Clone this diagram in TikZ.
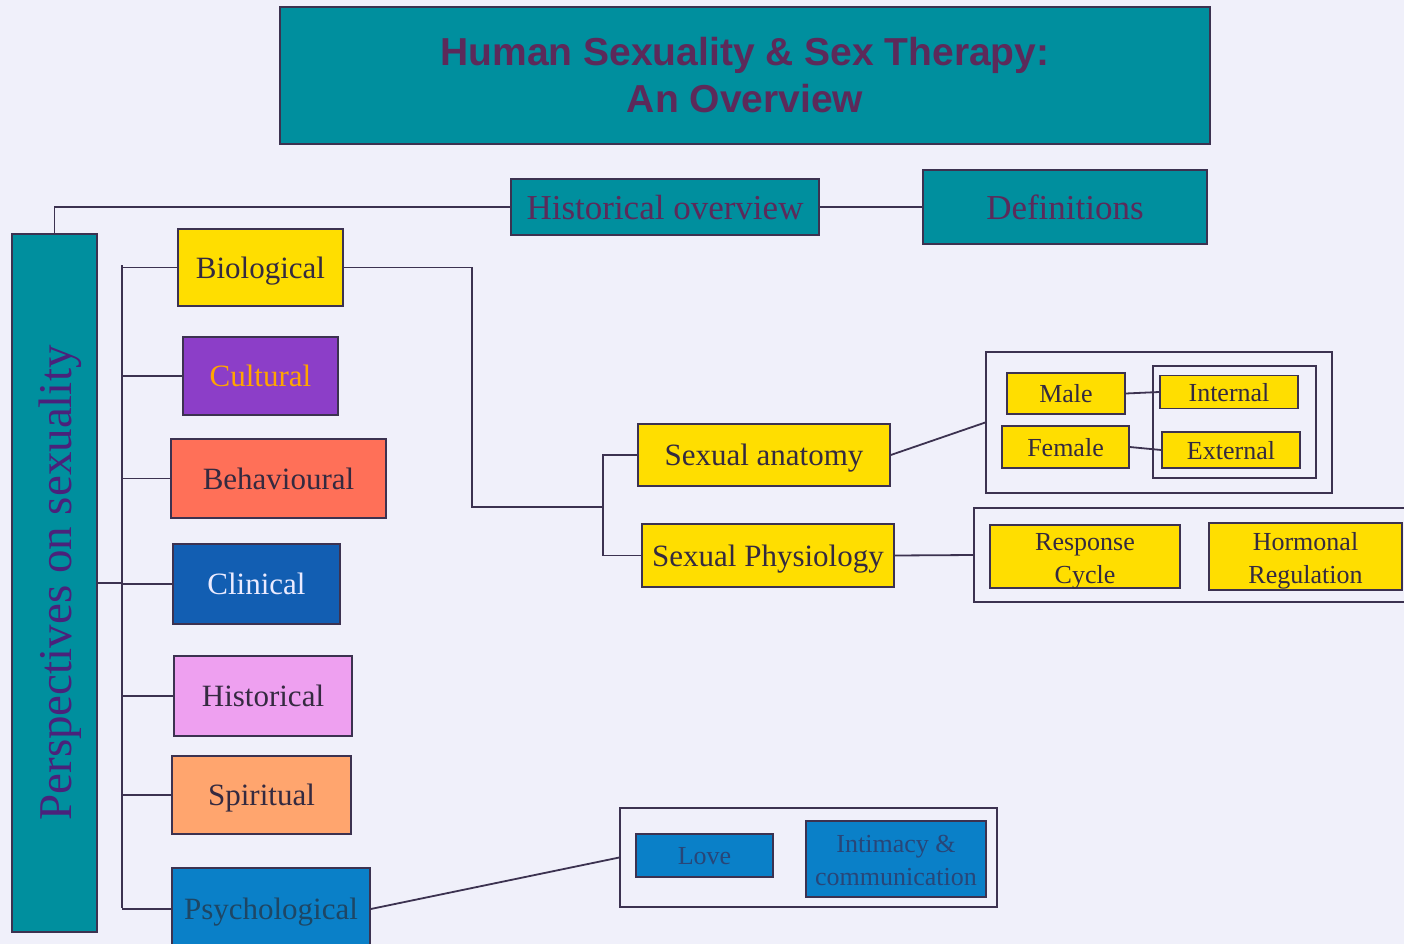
\documentclass[tikz,border=0pt]{standalone}
\usepackage{fontspec}
\setmainfont{Liberation Serif}
\newfontfamily\headfont{Liberation Sans}
\usepackage{tikz}
\usetikzlibrary{positioning}
\definecolor{PageBg}{RGB}{240,240,250}
\definecolor{TealBox}{RGB}{0,143,158}
\definecolor{PlumText}{RGB}{92,42,90}
\definecolor{InkLine}{RGB}{60,50,80}
\definecolor{InkText}{RGB}{52,42,64}
\definecolor{SunYellow}{RGB}{255,222,0}
\definecolor{Violet}{RGB}{140,62,200}
\definecolor{Amber}{RGB}{255,165,0}
\definecolor{Salmon}{RGB}{255,112,88}
\definecolor{RoyalBlue}{RGB}{18,94,178}
\definecolor{Orchid}{RGB}{238,160,240}
\definecolor{Peach}{RGB}{255,165,110}
\definecolor{SkyBlue}{RGB}{10,128,200}
\definecolor{DeepTeal}{RGB}{30,70,100}
\definecolor{NavyText}{RGB}{40,70,120}

\begin{document}
\begin{tikzpicture}[x=1pt,y=-1pt,
  headbox/.style={draw=InkLine,fill=TealBox,line width=1.5pt,inner sep=0pt,
    align=center,text=PlumText},
  facet/.style={draw=InkLine,line width=1.5pt,inner sep=0pt,text depth=0pt,
    align=center,font=\fontsize{31}{36}\selectfont,text=InkText},
  leaf/.style={draw=InkLine,fill=SunYellow,line width=1.5pt,inner sep=0pt,
    align=center,font=\fontsize{26}{33}\selectfont,text=InkText},
  twoline/.style={text height=53pt,text depth=0pt},
  group/.style={draw=InkLine,line width=1.5pt,inner sep=0pt},
  link/.style={InkLine,line width=1.8pt},
]
\fill[PageBg] (0,0) rectangle (1404,944);
\useasboundingbox (0,0) rectangle (1404,944);
\clip (0,0) rectangle (1404,944);

% --- heading row ---
\node[headbox,minimum width=930,minimum height=137,
  font=\headfont\bfseries\fontsize{39}{47}\selectfont] (title) at (745,75.5)
  {Human Sexuality \& Sex Therapy:\\An Overview};
\node[headbox,minimum width=308,minimum height=56,text depth=0pt,
  font=\fontsize{35}{40}\selectfont] (hist) at (665,207) {Historical overview};
\node[headbox,minimum width=284,minimum height=74,text depth=0pt,
  font=\fontsize{35}{40}\selectfont] (defs) at (1065,207) {Definitions};
\node[headbox,minimum width=85,minimum height=698] (persp) at (54.5,583) {};
\node[rotate=90,text=PlumText!80!blue,font=\fontsize{47}{52}\selectfont]
  (persplbl) at (60,583) {Perspectives on sexuality};

% --- perspectives column ---
\node[facet,fill=SunYellow,minimum width=165,minimum height=77] (bio) at (260.5,267.5) {Biological};
\node[facet,fill=Violet,text=Amber,minimum width=155,minimum height=78] (cult) at (260.5,376) {Cultural};
\node[facet,fill=Salmon,minimum width=215,minimum height=79] (behav) at (278.5,478.5) {Behavioural};
\node[facet,fill=RoyalBlue,text=white!92!blue,minimum width=167,minimum height=80] (clin) at (256.5,584) {Clinical};
\node[facet,fill=Orchid,minimum width=178,minimum height=80] (histp) at (263,696) {Historical};
\node[facet,fill=Peach,minimum width=179,minimum height=78] (spir) at (261.5,795) {Spiritual};
\node[facet,fill=SkyBlue,text=DeepTeal,minimum width=198,minimum height=82] (psych) at (271,909) {Psychological};

% --- biology branch ---
\node[facet,fill=SunYellow,minimum width=252,minimum height=62] (anat) at (764,455) {Sexual anatomy};
\node[facet,fill=SunYellow,minimum width=252,minimum height=63] (phys) at (768,555.5) {Sexual Physiology};

\node[group,minimum width=346,minimum height=141] (anatgrp) at (1159,422.5) {};
\node[leaf,text depth=0pt,minimum width=118,minimum height=41] (male) at (1066,393.5) {Male};
\node[leaf,text depth=0pt,minimum width=127,minimum height=42] (female) at (1065.5,447) {Female};
\node[group,minimum width=163,minimum height=112] (sidegrp) at (1234.5,422) {};
\node[leaf,text depth=0pt,minimum width=138,minimum height=33] (internal) at (1229,392) {Internal};
\node[leaf,text depth=0pt,minimum width=138,minimum height=36] (external) at (1231,450) {External};

\node[group,minimum width=432,minimum height=94] (physgrp) at (1190,555) {};
\node[leaf,twoline,minimum width=190,minimum height=63] (resp) at (1085,556.5) {Response\\Cycle};
\node[leaf,twoline,minimum width=193,minimum height=67] (horm) at (1305.5,556.5) {Hormonal\\Regulation};

% --- psychology branch ---
\node[group,minimum width=377,minimum height=99] (lovegrp) at (808.5,857.5) {};
\node[leaf,text depth=0pt,fill=SkyBlue,text=NavyText,minimum width=137,minimum height=43] (love) at (704.5,855.5) {Love};
\node[leaf,twoline,fill=SkyBlue,text=NavyText,minimum width=180,minimum height=76] (intim) at (896,859) {Intimacy \&\\communication};

% --- connectors ---
\coordinate (bustop) at (122,265);
\coordinate (busbot) at (122,908);
\draw[link] (bustop) -- (busbot);
\foreach \b in {bio,cult,behav,clin,histp,spir,psych}
  \draw[link] (\b.west) -- (\b.west -| bustop);
\draw[link] (persp.east) -- (persp.east -| bustop);
\draw[link] (persp.north) |- (hist.west);
\draw[link] (hist.east) -- (defs.west);

\coordinate (bend) at (472,507);
\coordinate (split) at (603,507);
\draw[link] (bio.east) -| (bend) -- (split);
\draw[link] (anat.west) -| (split);
\draw[link] (phys.west) -| (split);
\draw[link] (anat.east) -- (anatgrp.west);
\draw[link] (male.east) -- (internal.west);
\draw[link] (female.east) -- (external.west);
\draw[link] (phys.east) -- (physgrp.west);
\draw[link] (psych.east) -- (lovegrp.west);
\end{tikzpicture}
\end{document}
